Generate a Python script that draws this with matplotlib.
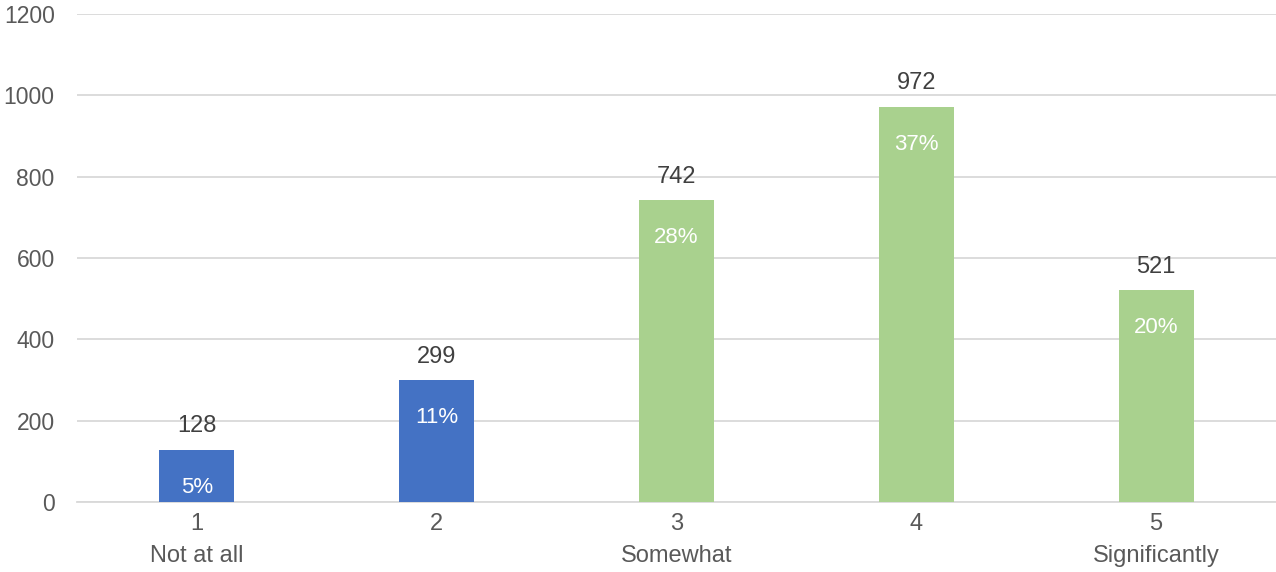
import matplotlib
matplotlib.use("Agg")
import matplotlib.pyplot as plt

plt.rcParams['font.family'] = ['Liberation Sans', 'DejaVu Sans']

# data
ratings = ['1', '2', '3', '4', '5']
subtitles = ['Not at all', '', 'Somewhat', '', 'Significantly']
counts = [128, 299, 742, 972, 521]
percents = ['5%', '11%', '28%', '37%', '20%']
bar_colors = ['#4472C4', '#4472C4', '#A9D18E', '#A9D18E', '#A9D18E']

fig = plt.figure(figsize=(12.76, 5.72), dpi=100, facecolor='w')
ax = fig.add_axes([0.0603, 0.1224, 0.9397, 0.8531])

x = list(range(len(counts)))
bars = ax.bar(x, counts, width=0.313, color=bar_colors, zorder=3)

ax.set_xlim(-0.5, 4.5)
ax.set_ylim(0, 1200)
ax.set_yticks(range(0, 1201, 200))
ax.yaxis.grid(True, color='#d9d9d9', linewidth=1.3, zorder=0)
ax.set_axisbelow(True)

for s in ['top', 'right', 'left']:
    ax.spines[s].set_visible(False)
ax.spines['bottom'].set_color('#d9d9d9')
ax.spines['bottom'].set_linewidth(1.3)

ax.set_xticks(x)
ax.set_xticklabels([r + '\n' + s for r, s in zip(ratings, subtitles)],
                   fontsize=17, color='#595959', linespacing=1.6)
ax.tick_params(axis='x', length=0, pad=8)
ax.tick_params(axis='y', length=0, pad=16, labelsize=16.5, labelcolor='#595959')

# labels
for b, c, p in zip(bars, counts, percents):
    cx = b.get_x() + b.get_width() / 2
    ax.annotate(str(c), (cx, c), xytext=(0, 17), textcoords='offset points',
                ha='center', va='center', fontsize=17, color='#404040')
    ax.annotate(p, (cx, c), xytext=(0, -27), textcoords='offset points',
                ha='center', va='center', fontsize=16, color='white', zorder=4)

plt.savefig('out.png', dpi=100, facecolor='w')
plt.close()
